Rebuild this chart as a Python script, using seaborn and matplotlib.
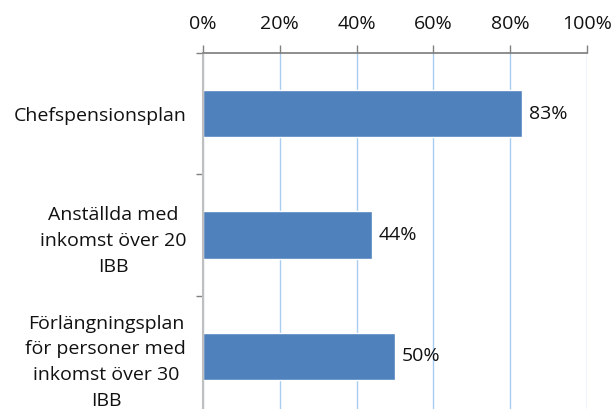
import matplotlib
matplotlib.use("Agg")
import pandas as pd
import seaborn as sns
import matplotlib.pyplot as plt
from matplotlib.ticker import FixedLocator

categories = [
    "Chefspensionsplan",
    "Anställda med\ninkomst över 20\nIBB",
    "Förlängningsplan\nför personer med\ninkomst över 30\nIBB",
]
values = [0.83, 0.44, 0.50]
value_labels = ["83%", "44%", "50%"]
x_ticks = [0, 0.2, 0.4, 0.6, 0.8, 1.0]
x_tick_labels = ["0%", "20%", "40%", "60%", "80%", "100%"]

df = pd.DataFrame({"Kategori": categories, "Andel": values})

sns.set_theme(style="white")
plt.rcParams["font.family"] = ["Open Sans", "DejaVu Sans"]
fs = 14

fig = plt.figure(figsize=(6.14, 4.09), dpi=100)
ax = fig.add_axes([203 / 614, 1 - 417 / 409, 384 / 614, (417 - 53) / 409])

sns.barplot(data=df, x="Andel", y="Kategori", color="#4F81BD", width=0.39,
            saturation=1, ax=ax)

ax.set_xlim(0, 1.0)
ax.set_ylim(2.5, -0.5)
ax.xaxis.tick_top()
ax.set_xticks(x_ticks)
ax.set_xticklabels(x_tick_labels, fontsize=fs, color="#111111")
ax.tick_params(axis="x", direction="out", length=5.8, width=1, color="#808080",
               pad=8.5, top=True, bottom=False)
ax.grid(axis="x", color="#A9CDF0", linewidth=1)
ax.set_axisbelow(True)

ax.set_yticks([0, 1, 2])
ax.set_yticklabels(categories, fontsize=fs, color="#111111",
                   multialignment="center", linespacing=1.55)
ax.tick_params(axis="y", which="major", length=0, pad=12)
ax.yaxis.set_minor_locator(FixedLocator([-0.5, 0.5, 1.5, 2.5]))
ax.tick_params(axis="y", which="minor", length=5, width=1, color="#808080", left=True)

for spine in ["right", "bottom"]:
    ax.spines[spine].set_visible(False)
ax.spines["top"].set_color("#808080")
ax.spines["left"].set_color("#BFBFBF")
ax.spines["left"].set_linewidth(1.5)

for i, (v, lab) in enumerate(zip(values, value_labels)):
    ax.annotate(lab, (v, i), xytext=(5, 0), textcoords="offset points",
                va="center", ha="left", fontsize=fs, color="#111111")

ax.set_xlabel("")
ax.set_ylabel("")

fig.savefig("out.png", dpi=100)
